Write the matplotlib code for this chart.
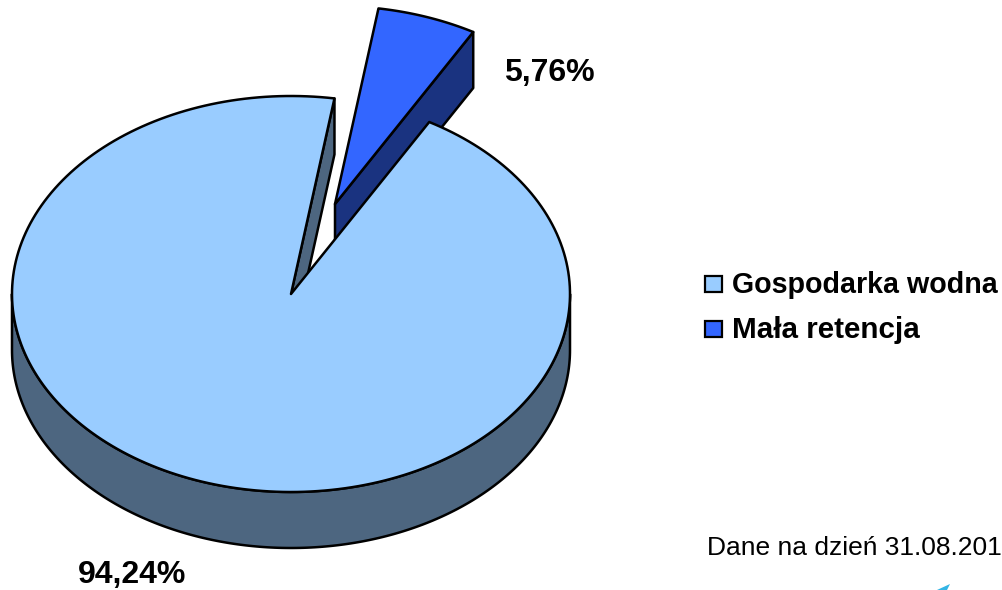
import numpy as np
import matplotlib
matplotlib.use("Agg")
import matplotlib.pyplot as plt
from matplotlib.patches import Polygon, Rectangle

plt.rcParams["font.family"] = ["Liberation Sans", "DejaVu Sans"]

categories = ["Gospodarka wodna", "Mała retencja"]
shares = [94.24, 5.76]
pct_labels = ["94,24%", "5,76%"]
top_colors = ["#99CCFF", "#3366FF"]
side_colors = ["#4D6680", "#1A3380"]
note = "Dane na dzień 31.08.201"

# pie geometry in pixels
cx, cy = 291, 294
rx, ry = 279, 198
depth = 56
offset = (44, -90)
small_start = 60.3
lw = 1.8

fig = plt.figure(figsize=(10.02, 5.9), dpi=100)
ax = fig.add_axes([0, 0, 1, 1])
ax.set_xlim(0, 1002)
ax.set_ylim(590, 0)
ax.axis("off")


def rim(t1, t2, dx=0, dy=0):
    t = np.radians(np.linspace(t1, t2, 240))
    return np.column_stack([cx + dx + rx * np.cos(t), cy + dy - ry * np.sin(t)])


def add_poly(points, color, z):
    ax.add_patch(Polygon(points, closed=True, facecolor=color, edgecolor="black",
                         linewidth=lw, joinstyle="round", zorder=z))


small_sweep = shares[1] / sum(shares) * 360
small_end = small_start + small_sweep
main_start = small_end
main_end = small_start + 360

# outer wall of the large slice (front half only)
front = rim(180, 360)
add_poly(np.vstack([front, (front + [0, depth])[::-1]]), side_colors[0], 1)

# cut face of the large slice, seen through the gap
edge = rim(main_start, main_start)[0]
add_poly([(cx, cy), edge, edge + [0, depth], (cx, cy + depth)], side_colors[0], 2)

# pulled out slice
dx, dy = offset
tip = np.array([cx + dx, cy + dy])
right = rim(small_start, small_start, dx, dy)[0]
add_poly([tip, right, right + [0, depth], tip + [0, depth]], side_colors[1], 3)
add_poly(np.vstack([[tip], rim(small_start, small_end, dx, dy)]), top_colors[1], 4)

# top of the large slice
add_poly(np.vstack([[(cx, cy)], rim(main_start, main_end)]), top_colors[0], 5)

# labels
ax.text(132, 575.5, pct_labels[0], fontsize=23, fontweight="bold", ha="center", va="center")
ax.text(549, 73, pct_labels[1], fontsize=23, fontweight="bold", ha="center", va="center")

# legend
for y, name, color, size in zip([284, 329], categories, top_colors, [20.6, 21.3]):
    ax.add_patch(Rectangle((705.5, y - 8.5), 16.5, 16.5, facecolor=color, edgecolor="black", linewidth=1.6))
    ax.text(732, y + 1, name, fontsize=size, fontweight="bold", ha="left", va="center")

ax.text(707, 548, note, fontsize=19, ha="left", va="center")

# corner of the logo cut by the page edge
ax.add_patch(Polygon([(937, 590), (950, 584), (947, 590)], closed=True, facecolor="#33B5E5", edgecolor="none"))

fig.savefig("out.png", dpi=100)
